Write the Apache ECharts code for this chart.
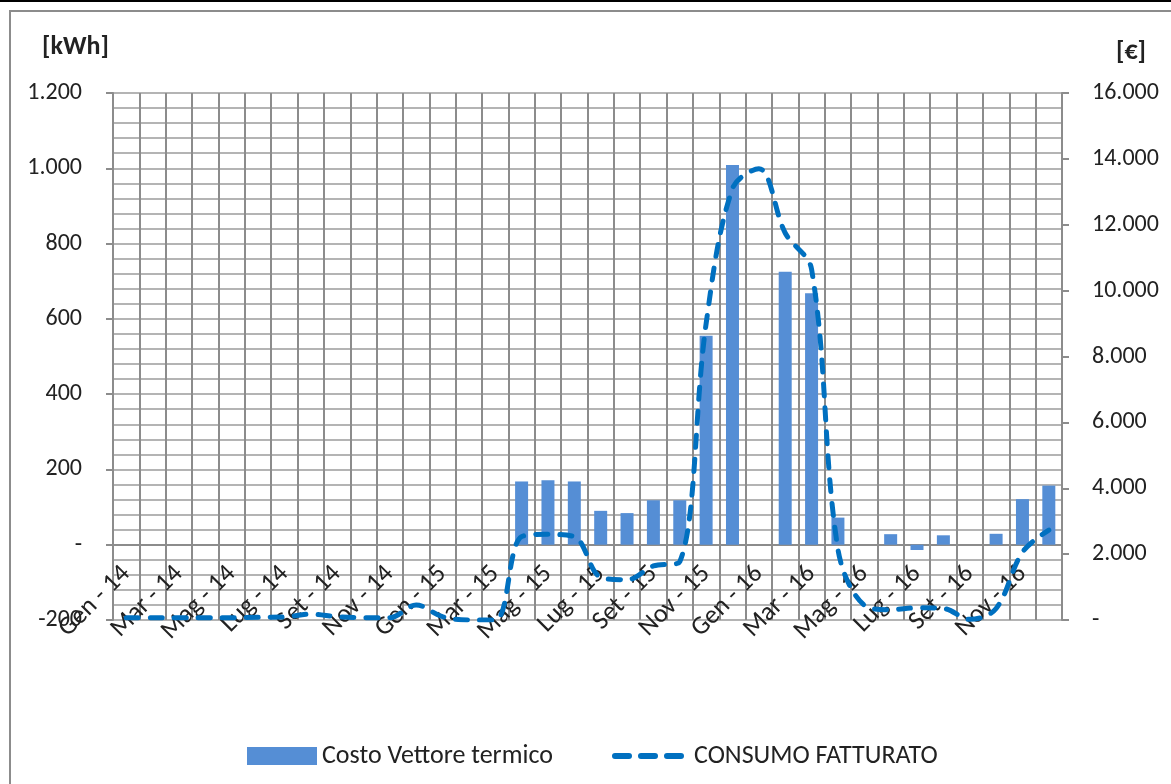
<!DOCTYPE html>
<html>
<head>
<meta charset="utf-8">
<script src="https://cdn.jsdelivr.net/npm/echarts@6/dist/echarts.min.js"></script>
<style>
html,body{margin:0;padding:0;background:#fff;}
#chart{width:1171px;height:784px;}
</style>
</head>
<body>
<div id="chart"></div>
<script>
const months = ['Gen','Feb','Mar','Apr','Mag','Giu','Lug','Ago','Set','Ott','Nov','Dic'];
const years = ['14','15','16'];
const categories = [];
years.forEach(y => months.forEach(m => categories.push(m + ' - ' + y)));

// Costo Vettore termico (left axis)
const costoVettore = [
  null,null,null,null,null,null,null,null,null,null,null,null,
  null,null,null,168,171,168,90,84,118,118,555,1009,
  null,725,668,72,null,28,-14,25,null,29,121,157
];
// CONSUMO FATTURATO (right axis)
const consumoFatturato = [
  70,70,70,70,70,80,90,180,100,70,70,455,
  100,0,0,2530,2600,2530,1300,1220,1640,1770,9000,13100,
  13700,11750,10650,2150,450,310,370,350,20,350,2060,2730
];

const leftTicks = {min:-200, max:1200, interval:200};
const rightTicks = {min:0, max:16000, interval:2000};

function fmt(v){
  if (v === 0) return '-';
  const s = Math.abs(v).toString().replace(/\B(?=(\d{3})+(?!\d))/g, '.');
  return (v < 0 ? '-' : '') + s;
}

const FONT = 'Carlito, Lato, "Open Sans", sans-serif';
const GRID_TOP = 93, GRID_BOTTOM_PX = 620;
const zeroOffset = -(GRID_BOTTOM_PX - GRID_TOP) * (0 - leftTicks.min) / (leftTicks.max - leftTicks.min);

const chart = echarts.init(document.getElementById('chart'), null, {renderer:'canvas'});
chart.setOption({
  animation:false,
  backgroundColor:'#fff',
  textStyle:{fontFamily:FONT},
  grid:{left:113, right:109, top:GRID_TOP, bottom:784-GRID_BOTTOM_PX, containLabel:false},
  legend:[
    {
      left:247, top:743, padding:0,
      itemWidth:70, itemHeight:18, itemGap:6,
      textStyle:{fontSize:26, color:'#222', fontFamily:FONT},
      data:[{name:'Costo Vettore termico', icon:'rect'}]
    },
    {
      left:612, top:743, padding:0,
      itemWidth:74, itemHeight:18, itemGap:4,
      textStyle:{fontSize:26, color:'#222', fontFamily:FONT},
      data:[{
        name:'CONSUMO FATTURATO',
        itemStyle:{opacity:0},
        lineStyle:{color:'#0070c0', width:6, type:[14,12], cap:'round'}
      }]
    }
  ],
  graphic:[
    {type:'rect', shape:{x:10, y:11, width:1200, height:800}, style:{fill:'none', stroke:'#8c8c8c', lineWidth:2}, silent:true},
    {type:'line', shape:{x1:0, y1:1, x2:1171, y2:1}, style:{stroke:'#000', lineWidth:2}, silent:true},
    {type:'text', left:42, top:34, style:{text:'[kWh]', font:'bold 26px ' + FONT, fill:'#222'}},
    {type:'text', left:1116, top:39, style:{text:'[€]', font:'bold 26px ' + FONT, fill:'#222'}}
  ],
  xAxis:{
    type:'category',
    data:categories,
    boundaryGap:true,
    position:'bottom',
    offset:zeroOffset,
    axisLine:{onZero:false, lineStyle:{color:'#8c8c8c', width:2}},
    axisTick:{show:false},
    axisLabel:{interval:1, rotate:45, margin:25, fontSize:26, color:'#222', fontFamily:FONT},
    splitLine:{show:true, interval:0, lineStyle:{color:'#8c8c8c', width:2}}
  },
  yAxis:[
    {
      type:'value', position:'left',
      min:leftTicks.min, max:leftTicks.max, interval:leftTicks.interval,
      axisLine:{show:true, lineStyle:{color:'#8c8c8c', width:2}},
      axisTick:{show:true, length:7, inside:false, lineStyle:{color:'#8c8c8c', width:2}},
      axisLabel:{formatter:fmt, fontSize:24, color:'#222', margin:31, fontFamily:FONT},
      splitLine:{show:true, lineStyle:{color:'#b4b4b4', width:2}},
      minorTick:{show:true, splitNumber:5, length:0},
      minorSplitLine:{show:true, lineStyle:{color:'#b4b4b4', width:2}}
    },
    {
      type:'value', position:'right',
      min:rightTicks.min, max:rightTicks.max, interval:rightTicks.interval,
      axisLine:{show:true, lineStyle:{color:'#8c8c8c', width:2}},
      axisTick:{show:true, length:7, inside:false, lineStyle:{color:'#8c8c8c', width:2}},
      axisLabel:{formatter:fmt, fontSize:24, color:'#222', margin:30, fontFamily:FONT},
      splitLine:{show:false}
    }
  ],
  series:[
    {
      name:'Costo Vettore termico', type:'bar', yAxisIndex:0,
      data:costoVettore, barWidth:13,
      itemStyle:{color:'#558ed5'}
    },
    {
      name:'CONSUMO FATTURATO', type:'line', yAxisIndex:1,
      data:consumoFatturato, smooth:0.35, symbol:'none',
      itemStyle:{color:'#0070c0'},
      lineStyle:{color:'#0070c0', width:5, type:[12,12], cap:'round'},
      z:5
    }
  ]
});
</script>
</body>
</html>
